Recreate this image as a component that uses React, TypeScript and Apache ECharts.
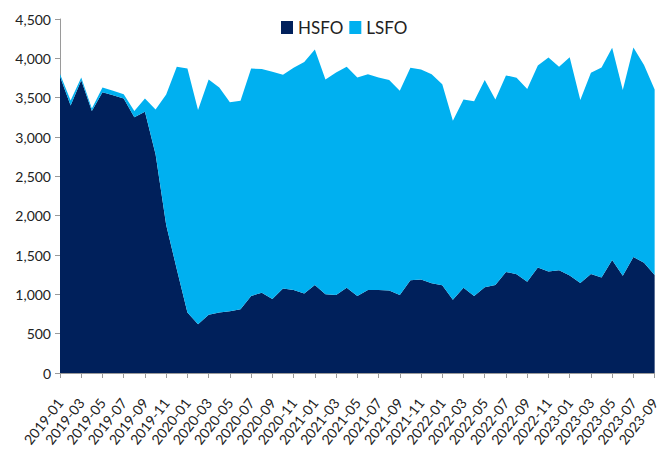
import React, { useEffect, useRef } from "react";
import * as echarts from "echarts";

const months: string[] = [];
for (let y = 2019; y <= 2023; y++) {
  for (let m = 1; m <= 12; m++) {
    if (y === 2023 && m > 9) break;
    months.push(`${y}-${m < 10 ? "0" + m : m}`);
  }
}

const hsfo = [
  3770, 3400, 3720, 3330, 3570, 3530, 3490, 3250, 3320, 2780,
  1880, 1320, 770, 620, 740, 770, 785, 810, 980, 1020,
  940, 1075, 1055, 1010, 1120, 1000, 990, 1085, 980, 1055,
  1055, 1050, 990, 1180, 1190, 1140, 1115, 930, 1085, 980,
  1090, 1120, 1285, 1255, 1160, 1340, 1290, 1305, 1240, 1145,
  1260, 1215, 1435, 1235, 1475, 1400, 1245,
];

const total = [
  3800, 3465, 3757, 3363, 3630, 3588, 3545, 3329, 3490, 3350,
  3541, 3892, 3871, 3342, 3732, 3630, 3443, 3460, 3871, 3863,
  3829, 3791, 3880, 3952, 4113, 3732, 3820, 3892, 3757, 3799,
  3757, 3723, 3587, 3880, 3859, 3799, 3672, 3206, 3478, 3456,
  3723, 3478, 3783, 3753, 3609, 3910, 4011, 3892, 4015, 3469,
  3816, 3884, 4134, 3596, 4138, 3914, 3605,
];

const lsfo = total.map((t, i) => t - hsfo[i]);

export default function App() {
  const ref = useRef<HTMLDivElement>(null);
  useEffect(() => {
    if (!ref.current) return;
    const chart = echarts.init(ref.current, undefined, { renderer: "svg" });
    const font = "Lato, 'Open Sans', sans-serif";
    chart.setOption({
      animation: false,
      textStyle: { fontFamily: font },
      legend: {
        top: 14,
        left: 276,
        itemWidth: 12,
        itemHeight: 13,
        itemGap: 6,
        icon: "rect",
        textStyle: { fontSize: 17, color: "#222", fontFamily: font, padding: [0, 0, 0, 0] },
        data: ["HSFO", "LSFO"],
      },
      grid: { left: 60, right: 5, top: 19, bottom: 84, containLabel: false },
      xAxis: {
        type: "category",
        boundaryGap: false,
        data: months,
        axisLine: { lineStyle: { color: "#9a9a9a" } },
        axisTick: { show: true, interval: 1, length: 5, lineStyle: { color: "#9a9a9a" } },
        axisLabel: {
          interval: 1,
          rotate: 52,
          fontSize: 14,
          color: "#222",
          margin: 27,
          fontFamily: font,
        },
      },
      yAxis: {
        type: "value",
        min: 0,
        max: 4500,
        interval: 500,
        axisLine: { show: true, lineStyle: { color: "#9a9a9a" } },
        axisTick: { show: true, length: 5, lineStyle: { color: "#9a9a9a" } },
        splitLine: { show: false },
        axisLabel: {
          fontSize: 14,
          color: "#222",
          margin: 9,
          fontFamily: font,
          formatter: (v: number) => v.toLocaleString("en-US"),
        },
      },
      series: [
        {
          name: "HSFO",
          type: "line",
          stack: "total",
          data: hsfo,
          symbol: "none",
          lineStyle: { width: 0 },
          itemStyle: { color: "#00205b" },
          areaStyle: { color: "#00205b", opacity: 1 },
        },
        {
          name: "LSFO",
          type: "line",
          stack: "total",
          data: lsfo,
          symbol: "none",
          lineStyle: { width: 0 },
          itemStyle: { color: "#00b0f0" },
          areaStyle: { color: "#00b0f0", opacity: 1 },
        },
      ],
    });
    return () => chart.dispose();
  }, []);
  return <div ref={ref} style={{ width: 662, height: 457, position: "absolute", left: 0, top: 0 }} />;
}
